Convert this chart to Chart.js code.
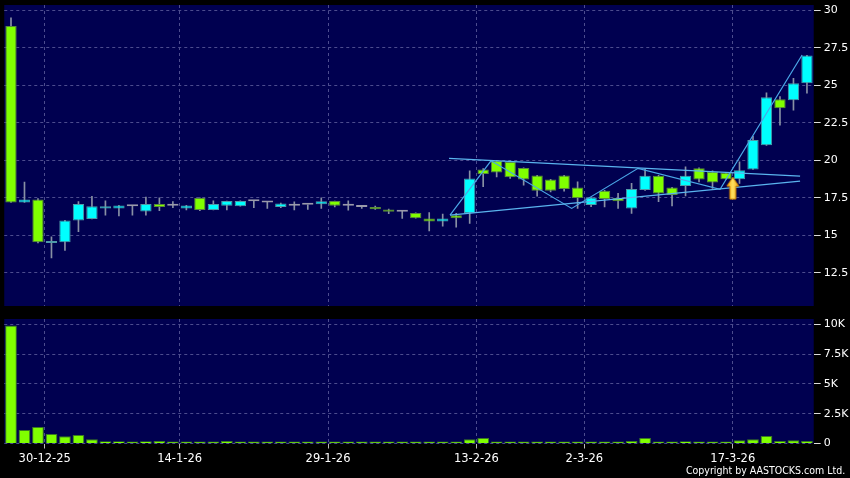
<!DOCTYPE html>
<html><head><meta charset="utf-8">
<script src="https://cdn.jsdelivr.net/npm/chart.js@4.4.1/dist/chart.umd.min.js"></script>
<style>
html,body{margin:0;padding:0;background:#000;width:850px;height:478px;overflow:hidden;}
#wrap{position:relative;width:850px;height:478px;background:#000;}
#c1{position:absolute;left:0;top:0;}
#c2{position:absolute;left:0;top:310px;}
#copy{position:absolute;right:5px;top:464px;color:#fff;font:11px 'DejaVu Sans',sans-serif;white-space:nowrap;transform:scaleX(0.86);transform-origin:right top;}
</style></head>
<body><div id="wrap">
<canvas id="c1" width="850" height="310"></canvas>
<canvas id="c2" width="850" height="168"></canvas>
<div id="copy">Copyright by AASTOCKS.com Ltd.</div>
</div>
<script>
const dates = ['24-12-25','29-12-25','30-12-25','31-12-25','2-1-26','5-1-26','6-1-26','7-1-26','8-1-26','9-1-26',
'12-1-26','13-1-26','14-1-26','15-1-26','16-1-26','19-1-26','20-1-26','21-1-26','22-1-26','23-1-26',
'26-1-26','27-1-26','28-1-26','29-1-26','30-1-26','2-2-26','3-2-26','4-2-26','5-2-26','6-2-26',
'9-2-26','10-2-26','11-2-26','12-2-26','13-2-26','16-2-26','20-2-26','23-2-26','24-2-26','25-2-26',
'26-2-26','27-2-26','2-3-26','3-3-26','4-3-26','5-3-26','6-3-26','9-3-26','10-3-26','11-3-26',
'12-3-26','13-3-26','16-3-26','17-3-26','18-3-26','19-3-26','20-3-26','23-3-26','24-3-26','25-3-26'];

const open  = [28.95,17.2,17.4,14.5,14.55,16.0,16.1,16.8,16.8,16.95,
16.6,17.1,16.97,16.8,17.5,16.7,16.97,16.95,17.27,17.2,
16.9,16.97,17.04,17.07,17.29,16.97,16.9,16.89,16.73,16.57,
16.5,16.13,15.93,16.35,16.47,19.4,19.97,19.9,19.5,19.0,
18.73,19.0,18.2,17.02,17.97,17.5,16.8,18.02,18.98,18.2,
18.29,19.47,19.24,19.18,18.75,19.4,21.0,24.07,24.0,25.13];
const high  = [29.5,18.55,17.45,14.9,16.0,17.25,17.6,17.3,17.0,16.95,
17.55,17.5,17.25,17.0,17.5,17.3,17.29,17.3,17.27,17.2,
17.15,17.24,17.04,17.5,17.29,17.31,16.95,16.95,16.75,16.6,
16.5,16.53,16.42,16.47,19.3,19.45,20.0,19.95,19.5,19.0,
18.73,19.0,18.57,17.53,18.0,17.8,18.47,19.4,19.0,18.2,
19.57,19.5,19.3,19.2,19.9,21.6,24.5,24.25,25.47,27.0];
const low   = [17.2,17.2,14.5,13.5,14.0,15.25,16.1,16.35,16.3,16.35,
16.35,16.65,16.85,16.7,16.65,16.7,16.7,16.95,16.85,16.8,
16.85,16.7,16.73,16.8,16.9,16.69,16.8,16.73,16.45,16.13,
16.15,15.3,15.62,15.55,15.8,18.25,18.9,18.8,18.35,17.62,
17.9,17.95,16.8,16.91,16.9,16.8,16.47,18.0,17.25,16.97,
17.64,18.57,18.13,18.75,18.47,19.4,21.0,22.35,23.35,24.47];
const close = [17.2,17.4,14.55,14.6,16.0,17.1,16.95,16.95,17.0,16.95,
17.1,16.9,16.97,17.0,16.7,17.1,17.29,17.3,17.27,17.2,
17.13,16.97,17.04,17.27,16.97,16.97,16.9,16.75,16.57,16.57,
16.15,15.93,16.13,16.15,18.8,19.1,19.2,18.87,18.73,17.97,
17.97,18.1,17.5,17.53,17.42,17.27,18.09,18.98,17.8,17.69,
18.98,18.73,18.53,18.75,19.35,21.35,24.2,23.47,25.13,26.98];
const volume = [9900,1130,1380,800,610,720,360,190,190,160,
190,220,140,80,60,110,220,50,130,100,
100,70,40,100,30,100,150,150,70,40,
60,80,20,100,360,470,60,80,80,120,
20,20,20,20,20,30,200,470,80,80,
190,20,20,50,280,360,640,220,280,220];

const tickDates = ['30-12-25','14-1-26','29-1-26','13-2-26','2-3-26','17-3-26'];
const priceTicks = [12.5,15,17.5,20,22.5,25,27.5,30];
const priceTickLabels = ['12.5','15','17.5','20','22.5','25','27.5','30'];
const volTicks = [0,2500,5000,7500,10000];
const volTickLabels = ['0','2.5K','5K','7.5K','10K'];

// pattern annotations (index, price)
const zigzagX = [32.54,35.58,41.56,46.48,52.56,58.64];
const zigzagY = [16.35,19.97,16.8,19.47,18.07,27.02];
const upperX = [32.47,58.49];
const upperY = [20.13,18.95];
const lowerX = [32.54,58.49];
const lowerY = [16.35,18.62];
const arrowX = [53.5];
const arrowY = [18.15];

// ---------- derived ----------
const idx = dates.map((d,i)=>i);
const gridPos = tickDates.map(t => dates.indexOf(t) + 0.5);
const pts = (xs, ys) => xs.map((x,i)=>({x:x, y:ys[i]}));

const NAVY = '#000050';
const GRID = '#4c4c8e';
const UP = '#00ffff', DOWN = '#80ff00', DOJI = '#9a9aaa';
const UPB = '#4f9aa8', DOWNB = '#5a8a3a';

Chart.defaults.font.family = "'DejaVu Sans', sans-serif";

const bgPlugin = {
  id: 'panelBg',
  beforeDraw(chart) {
    const a = chart.chartArea, c = chart.ctx;
    c.save(); c.fillStyle = NAVY; c.fillRect(a.left, a.top, a.right - a.left, a.bottom - a.top); c.restore();
  }
};

function dirColor(i, u, d, z) {
  return close[i] > open[i] ? u : (close[i] < open[i] ? d : z);
}
function noPad(s) { s.paddingTop = 0; s.paddingBottom = 0; s.paddingLeft = 0; s.paddingRight = 0; }

// arrow marker
const arrowImg = document.createElement('canvas');
arrowImg.width = 14; arrowImg.height = 24;
(function(){
  const c = arrowImg.getContext('2d');
  c.beginPath();
  c.moveTo(7, 1); c.lineTo(13, 10); c.lineTo(10, 10); c.lineTo(10, 23); c.lineTo(4, 23); c.lineTo(4, 10); c.lineTo(1, 10); c.closePath();
  const g = c.createLinearGradient(0,0,14,0);
  g.addColorStop(0,'#f0a000'); g.addColorStop(0.5,'#ffe060'); g.addColorStop(1,'#f0a000');
  c.fillStyle = g; c.fill();
  c.strokeStyle = '#d08000'; c.lineWidth = 1; c.stroke();
})();

const xCommon = {
  type: 'linear', min: -0.5, max: 59.5, offset: false,
  afterBuildTicks: s => { s.ticks = gridPos.map(v => ({value: v})); },
  grid: { color: GRID, lineWidth: 1, offset: false, tickBorderDash: [] },
  border: { display: false, dash: [3,3] }
};

new Chart(document.getElementById('c1'), {
  type: 'bar',
  data: {
    datasets: [
      { label: 'wick', data: idx.map(i => ({x: i, y: [low[i], high[i]]})),
        backgroundColor: '#8890a4', borderWidth: 0, barThickness: 1, grouped: false, order: 3 },
      { label: 'body', data: idx.map(i => ({x: i, y: [open[i], close[i]]})),
        backgroundColor: c => dirColor(c.dataIndex, UP, DOWN, DOJI),
        borderColor: c => dirColor(c.dataIndex, UPB, DOWNB, DOJI),
        borderWidth: 1, borderSkipped: false, minBarLength: 2,
        barPercentage: 0.84, categoryPercentage: 1, grouped: false, order: 2 },
      { type: 'line', label: 'upper', data: pts(upperX, upperY), borderColor: '#5ab4ee', borderWidth: 1.3, pointRadius: 0, order: 1 },
      { type: 'line', label: 'lower', data: pts(lowerX, lowerY), borderColor: '#5ab4ee', borderWidth: 1.3, pointRadius: 0, order: 1 },
      { type: 'line', label: 'zigzag', data: pts(zigzagX, zigzagY), borderColor: '#4aa6e6', borderWidth: 1.2, pointRadius: 0, order: 1 },
      { type: 'line', label: 'signal', data: pts(arrowX, arrowY), showLine: false, pointStyle: arrowImg, pointRadius: 10, order: 0 }
    ]
  },
  options: {
    responsive: false, devicePixelRatio: 1, animation: false, events: [],
    layout: { autoPadding: false, padding: { left: 4.25, right: 0, top: 5, bottom: 4 } },
    plugins: { legend: { display: false }, tooltip: { enabled: false } },
    scales: {
      x: Object.assign({}, xCommon, {
        ticks: { display: false },
        grid: Object.assign({}, xCommon.grid, { drawTicks: false }),
        afterFit: s => { s.height = 0; noPad(s); }
      }),
      y: {
        type: 'linear', position: 'right', min: 10.3, max: 30.35,
        afterBuildTicks: s => { s.ticks = priceTicks.map(v => ({value: v})); },
        afterFit: s => { s.width = 36.3; noPad(s); },
        ticks: { color: '#ffffff', font: { size: 11 }, padding: 3,
          callback: v => { const i = priceTicks.indexOf(v); return i >= 0 ? priceTickLabels[i] : ''; } },
        grid: { color: GRID, tickColor: '#dddddd', tickLength: 7, tickBorderDash: [] },
        border: { display: false, dash: [3,3] }
      }
    }
  },
  plugins: [bgPlugin]
});

new Chart(document.getElementById('c2'), {
  type: 'bar',
  data: {
    datasets: [
      { label: 'volume', data: idx.map(i => ({x: i, y: volume[i]})),
        backgroundColor: '#80ff00', borderColor: '#3a7a22', borderWidth: 1, minBarLength: 2,
        barPercentage: 0.87, categoryPercentage: 1 }
    ]
  },
  options: {
    responsive: false, devicePixelRatio: 1, animation: false, events: [],
    layout: { autoPadding: false, padding: { left: 4.25, right: 0, top: 9, bottom: 0 } },
    plugins: { legend: { display: false }, tooltip: { enabled: false } },
    scales: {
      x: Object.assign({}, xCommon, {
        ticks: { color: '#ffffff', font: { size: 11.5 }, padding: 4, autoSkip: false, maxRotation: 0,
          callback: v => { const i = gridPos.indexOf(v); return i >= 0 ? tickDates[i] : ''; } },
        grid: Object.assign({}, xCommon.grid, { tickColor: '#bbbbbb', tickLength: 5 }),
        afterFit: s => { s.height = 34.5; noPad(s); }
      }),
      y: {
        type: 'linear', position: 'right', min: 0, max: 10450,
        afterBuildTicks: s => { s.ticks = volTicks.map(v => ({value: v})); },
        afterFit: s => { s.width = 36.3; noPad(s); },
        ticks: { color: '#ffffff', font: { size: 11 }, padding: 3,
          callback: v => { const i = volTicks.indexOf(v); return i >= 0 ? volTickLabels[i] : ''; } },
        grid: { color: GRID, tickColor: '#dddddd', tickLength: 7, tickBorderDash: [] },
        border: { display: false, dash: [3,3] }
      }
    }
  },
  plugins: [bgPlugin]
});
</script>
</body></html>
